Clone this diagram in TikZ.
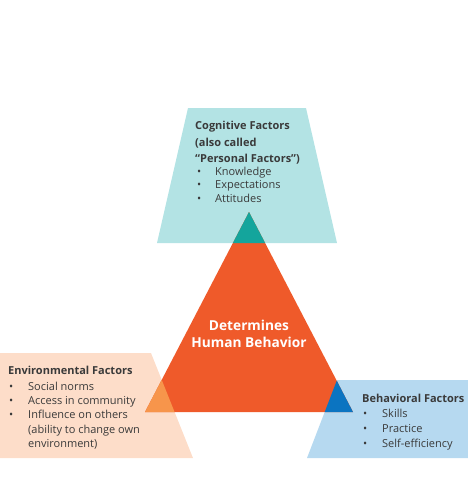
\documentclass[tikz,border=0pt]{standalone}
\usepackage{fontspec}
\setmainfont{Open Sans}
\definecolor{cogbg}{HTML}{B3E3E4}
\definecolor{cogov}{HTML}{14A59C}
\definecolor{tri}{HTML}{EF5A2A}
\definecolor{envbg}{HTML}{FDDDC9}
\definecolor{envov}{HTML}{F7954B}
\definecolor{behbg}{HTML}{B6D9F0}
\definecolor{behov}{HTML}{0B74C1}
\definecolor{txtc}{HTML}{3A3A3A}
\begin{document}
\begin{tikzpicture}[x=1pt,y=-1pt,
  txt/.style={anchor=base west, inner sep=0pt, text=txtc, font=\fontsize{11}{13}\selectfont},
  ttl/.style={txt, font=\bfseries\fontsize{11}{13}\selectfont},
  ctr/.style={anchor=base, inner sep=0pt, text=white, font=\bfseries\fontsize{13.7}{16}\selectfont}]
\useasboundingbox (0,0) rectangle (468,480);
% background shapes
\fill[cogbg] (188,108) -- (306,108) -- (337,243) -- (157,243) -- cycle;
\fill[envbg] (0,353) -- (151,353) -- (193,458) -- (0,458) -- cycle;
\fill[behbg] (337,380) -- (468,380) -- (468,458) -- (307,458) -- cycle;
% main triangle
\fill[tri] (249,212) -- (353,412) -- (145,412) -- cycle;
% overlaps
\begin{scope}
  \clip (188,108) -- (306,108) -- (337,243) -- (157,243) -- cycle;
  \fill[cogov] (249,212) -- (353,412) -- (145,412) -- cycle;
\end{scope}
\begin{scope}
  \clip (0,353) -- (151,353) -- (193,458) -- (0,458) -- cycle;
  \fill[envov] (249,212) -- (353,412) -- (145,412) -- cycle;
\end{scope}
\begin{scope}
  \clip (337,380) -- (468,380) -- (468,458) -- (307,458) -- cycle;
  \fill[behov] (249,212) -- (353,412) -- (145,412) -- cycle;
\end{scope}
% centre text
\node[ctr] (m1) at (249,330) {Determines};
\node[ctr] (m2) at (249,347) {Human Behavior};
% cognitive
\node[ttl] (c1) at (195,129) {Cognitive Factors};
\node[ttl] (c2) at (195,146) {(also called};
\node[ttl] (c3) at (195,162) {“Personal Factors”)};
\node[txt] (cb1) at (197,175) {•};
\node[txt] (ct1) at (215,175) {Knowledge};
\node[txt] (cb2) at (197,188.5) {•};
\node[txt] (ct2) at (215,188.5) {Expectations};
\node[txt] (cb3) at (197,202) {•};
\node[txt] (ct3) at (215,202) {Attitudes};
% environmental
\node[ttl] (e1) at (8,374) {Environmental Factors};
\node[txt] (eb1) at (9,390) {•};
\node[txt] (et1) at (28,390) {Social norms};
\node[txt] (eb2) at (9,404) {•};
\node[txt] (et2) at (28,404) {Access in community};
\node[txt] (eb3) at (9,418) {•};
\node[txt] (et3) at (28,418) {Influence on others};
\node[txt] (et4) at (28,433) {(ability to change own};
\node[txt] (et5) at (28,447) {environment)};
% behavioral
\node[ttl] (b1) at (362,402) {Behavioral Factors};
\node[txt] (bb1) at (363,417) {•};
\node[txt] (bt1) at (382,417) {Skills};
\node[txt] (bb2) at (363,432) {•};
\node[txt] (bt2) at (382,432) {Practice};
\node[txt] (bb3) at (363,447) {•};
\node[txt] (bt3) at (382,447) {Self-efficiency};
\end{tikzpicture}
\end{document}
